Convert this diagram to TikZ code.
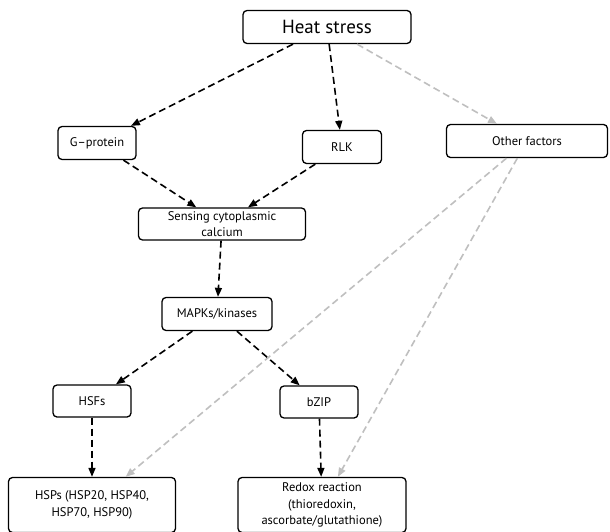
\documentclass[tikz,border=0pt]{standalone}
\usepackage{fontspec}
\setmainfont{PT Sans}
\usepackage{tikz}
\usetikzlibrary{arrows.meta}
\tikzstyle{box}=[draw,line width=1.3pt,rounded corners=4pt,inner sep=1pt,align=center,font=\fontsize{12.5}{16.5}\selectfont]
\tikzstyle{bigbox}=[box,font=\fontsize{19}{21}\selectfont]
\tikzstyle{edge} = [draw,line width=1.6pt,dash pattern=on 7pt off 4pt,-{Triangle[length=9pt,width=7pt]}]
\tikzstyle{grayedge} = [edge,black!25]

\begin{document}
\begin{tikzpicture}[x=1pt,y=-1pt]

\useasboundingbox (0,0) rectangle (610,532);

%top
   \node[bigbox,minimum width=168pt,minimum height=33pt] (heat) at (327,27) {Heat stress};

%layer 1
    \foreach \pos/\name/\boxw/\txt in {{(97,143)/gprot/78pt/G--protein}, {(342,147)/rlk/79pt/RLK}, {(527,141)/other/161pt/Other factors}}
        \node[box,minimum width=\boxw,minimum height=33pt] (\name) at \pos {\txt};

%layer 2
   \node[box,minimum width=167pt,minimum height=32pt] (sens) at (222,224) {Sensing cytoplasmic\\ calcium};
   \node[box,minimum width=110pt,minimum height=33pt] (mapk) at (217,314) {MAPKs/kinases};

%layer 3
    \foreach \pos/\name/\txt in {{(92,401)/hsf/HSFs}, {(319,402)/bzip/bZIP}}
        \node[box,minimum width=78pt,minimum height=32pt] (\name) at \pos {\txt};

%layer 4
   \node[box,minimum width=167pt,minimum height=55pt] (hsp) at (92,505) {HSPs (HSP20, HSP40,\\ HSP70, HSP90)};
   \node[box,minimum width=168pt,minimum height=55pt] (redox) at (322,505) {Redox reaction\\ (thioredoxin,\\ ascorbate/glutathione)};

    % Connect boxes with dashed arrows
  	\foreach \source/ \dest in {heat/gprot, heat/rlk, gprot/sens, rlk/sens, sens/mapk, mapk/hsf, mapk/bzip, hsf/hsp, bzip/redox}
		\path[edge] (\source) -- (\dest);
	%gray
  	\foreach \source/ \dest in {heat/other, other/hsp, other/redox}
		\path[grayedge] (\source) -- (\dest);

\end{tikzpicture}
\end{document}
